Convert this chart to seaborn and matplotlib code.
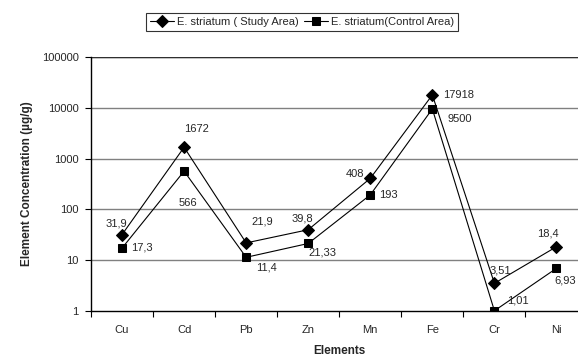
import pandas as pd
import numpy as np
import matplotlib.pyplot as plt
import seaborn as sns
from matplotlib.ticker import FixedLocator, FuncFormatter

# ----------------------------- Data ----------------------------- #
elements = ["Cu", "Cd", "Pb", "Zn", "Mn", "Fe", "Cr", "Ni"]
study_area = [31.9, 1672, 21.9, 39.8, 408, 17918, 3.51, 18.4]
control_area = [17.3, 566, 11.4, 21.33, 193, 9500, 1.01, 6.93]
study_labels = ["31,9", "1672", "21,9", "39,8", "408", "17918", "3,51", "18,4"]
control_labels = ["17,3", "566", "11,4", "21,33", "193", "9500", "1,01", "6,93"]
y_ticks = [1, 10, 100, 1000, 10000, 100000]

study_name = "E. striatum ( Study Area)"
control_name = "E. striatum(Control Area)"

df = pd.concat([
    pd.DataFrame({"Element": elements, "Value": study_area, "Series": study_name}),
    pd.DataFrame({"Element": elements, "Value": control_area, "Series": control_name}),
], ignore_index=True)

# ----------------------------- Style ----------------------------- #
sns.set_style("white")
plt.rcParams["font.family"] = ["Liberation Sans", "DejaVu Sans"]

fig = plt.figure(figsize=(5.78, 3.58), dpi=100)
ax = fig.add_axes([91 / 578, 1 - 311 / 358, (587.5 - 91) / 578, (311 - 57) / 358])

sns.lineplot(data=df, x="Element", y="Value", hue="Series", style="Series",
             markers={study_name: "D", control_name: "s"}, dashes=False,
             palette={study_name: "black", control_name: "black"},
             linewidth=0.8, markersize=6, markeredgecolor="black",
             sort=False, ax=ax, legend=True)

ax.set_yscale("log")
ax.set_ylim(1, 100000)
ax.set_xlim(-0.5, len(elements) - 0.5)

# grid
for t in y_ticks[1:]:
    ax.axhline(t, color="#808080", linewidth=1.0, zorder=0)
ax.axhline(100000, color="#303030", linewidth=1.0, zorder=0)

# ticks
ax.yaxis.set_major_locator(FixedLocator(y_ticks))
ax.yaxis.set_minor_locator(FixedLocator([]))
ax.yaxis.set_major_formatter(FuncFormatter(lambda v, p: f"{int(round(v))}"))
ax.set_xticks(range(len(elements)))
ax.set_xticklabels(elements)
ax.set_xticks(np.arange(-0.5, len(elements), 1.0), minor=True)
ax.tick_params(axis="x", which="major", length=0, pad=10, labelsize=8)
ax.tick_params(axis="x", which="minor", length=4, width=0.8, direction="out", color="black", bottom=True)
ax.tick_params(axis="y", which="major", length=4, width=0.8, direction="out", color="black", left=True,
               labelsize=8, pad=5)

for side in ["top", "right"]:
    ax.spines[side].set_visible(False)
for side in ["left", "bottom"]:
    ax.spines[side].set_color("black")
    ax.spines[side].set_linewidth(1.0)

ax.set_xlabel("Elements", fontsize=8.5, fontweight="bold", labelpad=7)
ax.set_ylabel("Element Concentration (µg/g)", fontsize=8.5, fontweight="bold", labelpad=6)

# data labels (offsets in pixels)
study_off = [(-6, 11, "center"), (12, 18, "center"), (16, 21, "center"), (-6, 11, "center"),
             (-6, 4, "right"), (11, 0, "left"), (6, 13, "center"), (-9, 13, "center")]
control_off = [(9, 1, "left"), (4, -32, "center"), (20, -10, "center"), (14, -9, "center"),
               (9, 0, "left"), (15, -10, "left"), (23, 10, "center"), (9, -12, "center")]
for i in range(len(elements)):
    dx, dy, ha = study_off[i]
    ax.annotate(study_labels[i], (i, study_area[i]), xytext=(dx, dy), textcoords="offset pixels",
                ha=ha, va="center", fontsize=8)
    dx, dy, ha = control_off[i]
    ax.annotate(control_labels[i], (i, control_area[i]), xytext=(dx, dy), textcoords="offset pixels",
                ha=ha, va="center", fontsize=8)

# legend
handles, labels = ax.get_legend_handles_labels()
ax.get_legend().remove()
leg = fig.legend(handles, labels, loc="center", bbox_to_anchor=(302 / 578, 1 - 22 / 358), ncol=2,
                 frameon=True, fancybox=False, edgecolor="black", fontsize=8,
                 handlelength=2.2, handletextpad=0.3, columnspacing=0.4, borderpad=0.35)
leg.get_frame().set_linewidth(0.8)

fig.savefig("out.png", dpi=100)
